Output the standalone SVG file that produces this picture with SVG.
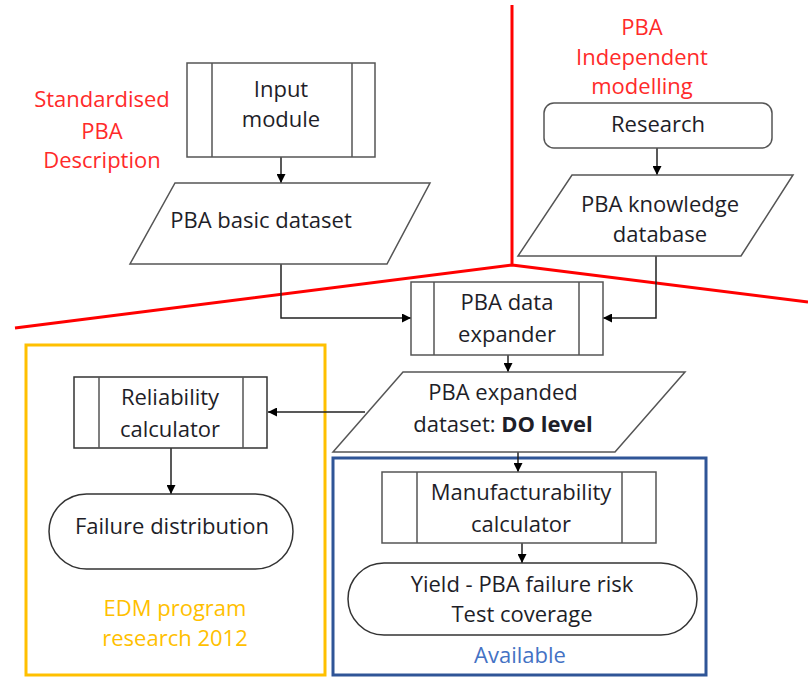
<svg xmlns="http://www.w3.org/2000/svg" width="808" height="678" viewBox="0 0 808 678">
<defs>
<marker id="arr" viewBox="0 0 10 10" refX="10" refY="5" markerWidth="9" markerHeight="9" markerUnits="userSpaceOnUse" orient="auto">
<path d="M0,0 L10,5 L0,10 z" fill="#000"/>
</marker>
<style>
.sh{fill:#fff;stroke:#555;stroke-width:1.5}
.in{stroke:#555;stroke-width:1.5;fill:none}
.t{font-family:"Open Sans","Liberation Sans",sans-serif;font-size:22px;fill:#1e1e28;text-anchor:middle}
.red{fill:#ff2a2a}
.con{stroke:#222;stroke-width:1.5;fill:none;marker-end:url(#arr)}
.rl{stroke:#ff0000;stroke-width:3;fill:none}
</style>
</defs>
<rect width="808" height="678" fill="#fff"/>
<g id="regions">
<path class="rl" d="M512,5 L512,265 M512,265 L15,328 M512,265 L808,302"/>
<rect x="26" y="345" width="299" height="330" fill="none" stroke="#ffc000" stroke-width="3"/>
<rect x="333" y="458" width="373" height="217" fill="none" stroke="#2f5597" stroke-width="3"/>
<text class="t red" x="102" y="107">Standardised</text>
<text class="t red" x="102" y="139">PBA</text>
<text class="t red" x="102" y="168">Description</text>
<text class="t red" x="642" y="35">PBA</text>
<text class="t red" x="642" y="65">Independent</text>
<text class="t red" x="642" y="94">modelling</text>
<text class="t" x="175" y="616" style="fill:#ffc000">EDM program</text>
<text class="t" x="175" y="646" style="fill:#ffc000">research 2012</text>
<text class="t" x="520" y="663" style="fill:#4472c4">Available</text>
</g>
<g id="connectors">
<path class="con" d="M281,157 L281,183"/>
<path class="con" d="M281,264 L281,318 L411,318"/>
<path class="con" d="M657,148 L657,175"/>
<path class="con" d="M656,256 L656,318 L603,318"/>
<path class="con" d="M508,355 L508,372"/>
<path class="con" d="M365,412 L268,412"/>
<path class="con" d="M171,448 L171,494"/>
<path class="con" d="M518,452 L518,472"/>
<path class="con" d="M522,543 L522,563"/>
</g>
<g id="input-module">
<rect class="sh" x="187" y="63" width="188" height="94"/>
<path class="in" d="M212,63 V157 M352,63 V157"/>
<text class="t" x="281" y="97">Input</text>
<text class="t" x="281" y="127">module</text>
</g>
<g id="pba-basic-dataset">
<polygon class="sh" points="175,183 430,183 387,264 130,264"/>
<text class="t" x="261" y="228">PBA basic dataset</text>
</g>
<g id="research">
<rect class="sh" x="544" y="103" width="228" height="45" rx="10"/>
<text class="t" x="658" y="132">Research</text>
</g>
<g id="pba-knowledge-database">
<polygon class="sh" points="572,175 793,175 741,256 518,256"/>
<text class="t" x="660" y="212">PBA knowledge</text>
<text class="t" x="660" y="242">database</text>
</g>
<g id="pba-data-expander">
<rect class="sh" x="411" y="282" width="192" height="73"/>
<path class="in" d="M434,282 V355 M579,282 V355"/>
<text class="t" x="507" y="310">PBA data</text>
<text class="t" x="507" y="342">expander</text>
</g>
<g id="pba-expanded-dataset">
<polygon class="sh" points="403,372 685,372 615,452 333,452"/>
<text class="t" x="503" y="400">PBA expanded</text>
<text class="t" x="503" y="432">dataset: <tspan font-weight="bold">DO level</tspan></text>
</g>
<g id="reliability-calculator">
<rect class="sh" x="74" y="377" width="193" height="71" style="stroke:#333"/>
<path class="in" d="M99,377 V448 M243,377 V448"/>
<text class="t" x="170" y="405">Reliability</text>
<text class="t" x="170" y="437">calculator</text>
</g>
<g id="failure-distribution">
<rect class="sh" x="49" y="494" width="244" height="75" rx="37.5" style="stroke:#333"/>
<text class="t" x="172" y="534">Failure distribution</text>
</g>
<g id="manufacturability-calculator">
<rect class="sh" x="382" y="472" width="274" height="71"/>
<path class="in" d="M417,472 V543 M622,472 V543"/>
<text class="t" x="521" y="500">Manufacturability</text>
<text class="t" x="521" y="532">calculator</text>
</g>
<g id="yield">
<rect class="sh" x="348" y="563" width="349" height="72" rx="36" style="stroke:#333"/>
<text class="t" x="522" y="592">Yield - PBA failure risk</text>
<text class="t" x="522" y="622">Test coverage</text>
</g>
</svg>
